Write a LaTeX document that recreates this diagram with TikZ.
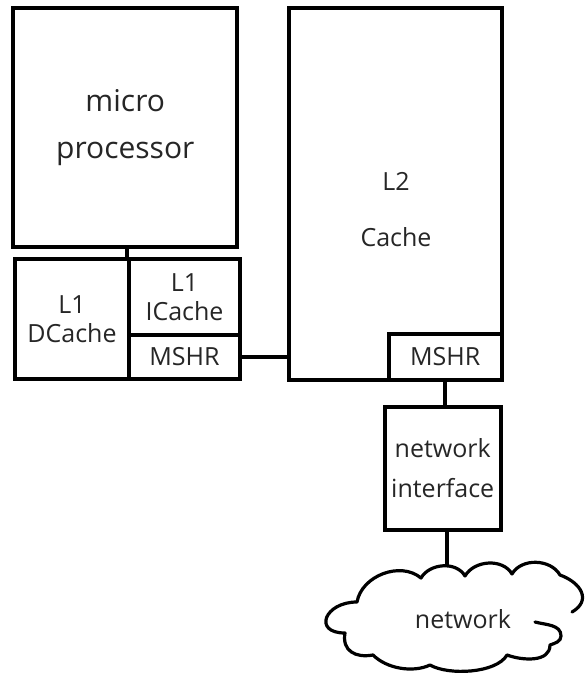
\documentclass[tikz,border=0pt]{standalone}
\usepackage{fontspec}
\setmainfont{Open Sans}
\begin{document}
\begin{tikzpicture}[x=1pt,y=1pt,
  box/.style={draw, rectangle, line width=4pt, inner sep=0pt},
  lbl/.style={font=\fontsize{25}{29}\selectfont, align=center, text=black!85, inner sep=0pt},
  wire/.style={line width=4pt},
  cloudline/.style={line width=3.2pt, line join=round, line cap=round}]
\useasboundingbox (0,0) rectangle (585,-677);
\fill[white] (0,0) rectangle (585,-677);

% processor and the L1 caches below it
\node[box, lbl, font=\fontsize{30}{47}\selectfont, minimum width=224pt, minimum height=238.5pt]
  (cpu) at (125.25,-127.25) {micro\\processor};
\node[box, lbl, minimum width=114pt, minimum height=120pt] (dcache) at (72,-319) {L1\\DCache};
\node[box, lbl, minimum width=111pt, minimum height=76pt] (icache) at (184.5,-297) {L1\\ICache};
\node[box, lbl, minimum width=111pt, minimum height=44pt] (l1mshr) at (184.5,-357) {MSHR};

% L2 cache with its MSHR
\node[box, minimum width=212.5pt, minimum height=371.5pt] (l2) at (395.25,-193.75) {};
\node[lbl] (l2text) at (396,-210) {L2\\[27pt]Cache};
\node[box, lbl, minimum width=112.5pt, minimum height=45.5pt] (l2mshr) at (445.25,-356.75) {MSHR};

% network interface
\node[box, lbl, minimum width=115.5pt, minimum height=123pt] (nic) at (442.75,-468.5) {network\\[11pt]interface};

% links
\draw[wire] (cpu.south -| icache.north west) -- (icache.north west);
\draw[wire] (l1mshr.east) -- (l1mshr.east -| l2.west);
\draw[wire] (l2mshr.south) -- (l2mshr.south |- nic.north);
\coordinate (cloudtop) at (447,-566);
\draw[wire] (cloudtop |- nic.south) -- (cloudtop);

% network cloud
\draw[cloudline]
  (572,-612) to[out=30,in=-20,looseness=1.5] (560,-575)
  to[out=120,in=60] (512,-574)
  to[out=120,in=60] (465,-576)
  to[out=120,in=60] (421,-578)
  to[out=140,in=80] (357,-602)
  to[out=180,in=180,looseness=2.5] (345,-633)
  to[out=-100,in=-170,looseness=1.3] (373,-655)
  to[out=-45,in=-155,looseness=0.85] (430,-665)
  to[out=-30,in=-120,looseness=0.7] (507,-655)
  to[out=-20,in=-90] (550,-645)
  to[out=20,in=-90] (561,-636)
  to[out=90,in=-15] (535,-622);
\node[lbl] (netlabel) at (463,-619) {network};
\end{tikzpicture}
\end{document}
